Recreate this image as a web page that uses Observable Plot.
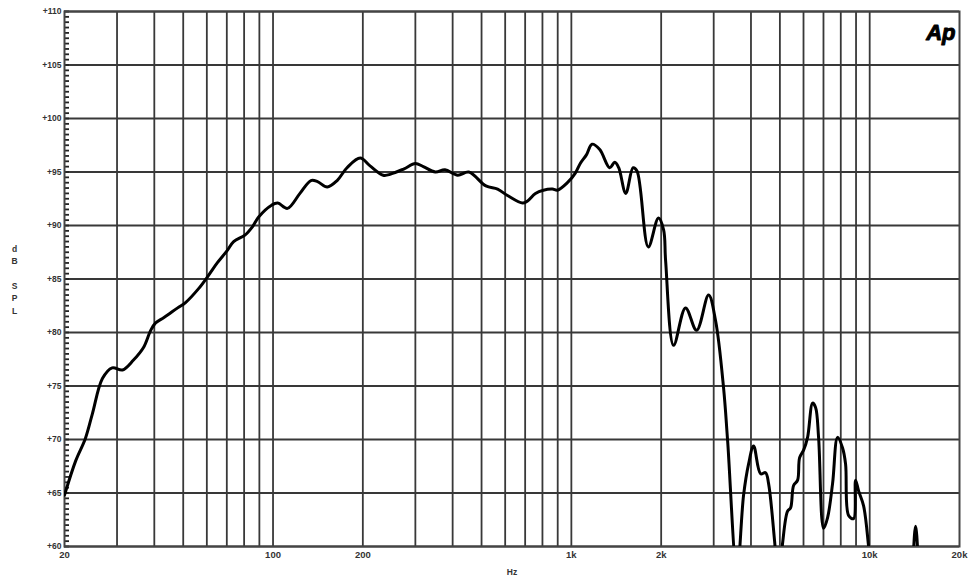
<!DOCTYPE html>
<html>
<head>
<meta charset="utf-8">
<script src="https://cdn.jsdelivr.net/npm/d3@7"></script>
<script src="https://cdn.jsdelivr.net/npm/@observablehq/plot@0.6"></script>
<style>
  html, body { margin: 0; padding: 0; background: #fff; }
</style>
</head>
<body>
<div id="chart"></div>
<script>
// Frequency response (Hz) and SPL (dB)
const freqs = [20, 21.8, 23.5, 24.8, 26.8, 28.9, 31.3, 34.0, 36.8, 38.9, 40.4, 43.1, 47.9, 50.9, 56.3, 60.3, 65.0, 70.4, 73.8, 80.5, 85.4, 89.5, 98.9, 103.7, 111.8, 123.1, 134, 141, 152, 164, 177, 196, 211, 234, 248, 275, 300, 319, 350, 377, 416, 453, 517, 566, 611, 686, 713, 758, 806, 864, 898, 970, 1031, 1071, 1123, 1173, 1245, 1344, 1398, 1441, 1522, 1610, 1660, 1811, 1958, 2038, 2070, 2202, 2414, 2629, 2884, 3044, 3238, 3340, 3590, 3778, 3926, 4082, 4308, 4477, 4581, 4800, 4950, 5105, 5306, 5430, 5558, 5733, 5822, 6004, 6192, 6436, 6586, 6740, 7006, 7226, 7510, 7806, 8112, 8302, 8498, 8832, 8970, 9180, 9540, 9916, 10300, 13500, 13926, 14252, 14588, 15000, 20000];
const spl = [64.8, 68.0, 70.1, 72.4, 75.7, 76.7, 76.5, 77.4, 78.6, 80.2, 80.9, 81.4, 82.3, 82.8, 84.1, 85.2, 86.5, 87.7, 88.5, 89.1, 89.9, 90.8, 91.9, 92.1, 91.6, 93.0, 94.2, 94.1, 93.6, 94.2, 95.4, 96.3, 95.6, 94.7, 94.8, 95.3, 95.8, 95.5, 95.0, 95.2, 94.7, 95.0, 93.7, 93.4, 92.8, 92.1, 92.3, 93.0, 93.3, 93.4, 93.3, 94.0, 94.9, 95.8, 96.6, 97.6, 97.1, 95.4, 95.9, 95.4, 93.0, 95.4, 95.1, 88.0, 90.7, 89.6, 86.7, 78.8, 82.3, 80.2, 83.5, 81.1, 74.8, 69.9, 57.5, 64.8, 67.7, 69.4, 66.8, 66.9, 65.9, 60.5, 56.0, 60.3, 63.3, 63.6, 65.7, 66.2, 68.3, 69.0, 70.2, 73.4, 73.0, 70.2, 61.7, 62.7, 65.9, 70.2, 69.2, 67.7, 62.9, 62.6, 66.2, 65.2, 63.8, 60.0, 55.0, 50.0, 58.0, 61.9, 58.0, 50.0, 45.0];

// Grid and tick values
const gridFreqs = [30, 40, 50, 60, 70, 80, 90, 100, 200, 300, 400, 500, 600, 700, 800, 900, 1000, 2000, 3000, 4000, 5000, 6000, 7000, 8000, 9000, 10000];
const xTickValues = [20, 50, 100, 200, 500, 1000, 2000, 5000, 10000, 20000];
const xTickLabels = ["20", "50", "100", "200", "500", "1k", "2k", "5k", "10k", "20k"];
const yTickValues = [60, 65, 70, 75, 80, 85, 90, 95, 100, 105, 110];
const yMinorTicks = d3.range(60, 110.001, 0.5);
const yLabelText = "d\nB\n\nS\nP\nL";
const xLabelText = "Hz";
const logoText = "Ap";

const W = 972, H = 583, ML = 64, MR = 13, MT = 11, MB = 37;
const minorTickLen = 5;

const data = freqs.map((f, i) => ({f, db: spl[i]}));
const xLabelOf = new Map(xTickValues.map((v, i) => [v, xTickLabels[i]]));

const chart = Plot.plot({
  width: W,
  height: H,
  marginLeft: ML,
  marginRight: MR,
  marginTop: MT,
  marginBottom: MB,
  style: {fontFamily: "'Liberation Sans', Arial, sans-serif", fontWeight: "bold", background: "#fff", color: "#222"},
  x: {type: "log", domain: [20, 20000], label: null},
  y: {domain: [60, 110], label: null},
  marks: [
    Plot.ruleX(gridFreqs, {stroke: "#383838", strokeWidth: 1.8}),
    Plot.ruleY(yTickValues, {stroke: "#383838", strokeWidth: 1.8}),
    Plot.tickY(yMinorTicks, {y: d => d, insetRight: W - ML - MR - minorTickLen, stroke: "#222", strokeWidth: 1.8}),
    Plot.axisY({ticks: yTickValues, tickSize: 0, tickPadding: 3, tickFormat: d => "+" + d, fontSize: 8.5, fill: "#333"}),
    Plot.axisX({ticks: xTickValues, tickSize: 0, tickPadding: 5, tickFormat: d => xLabelOf.get(d), fontSize: 9.5, fill: "#333"}),
    Plot.frame({stroke: "#444", strokeWidth: 2}),
    Plot.line(data, {x: "f", y: "db", stroke: "#000", strokeWidth: 3, curve: "catmull-rom", clip: true, strokeLinejoin: "round"}),
    Plot.text([yLabelText], {frameAnchor: "left", dx: -50, text: d => d, fontSize: 8.5, lineHeight: 1.45, textAnchor: "middle", fill: "#333"}),
    Plot.text([xLabelText], {frameAnchor: "bottom", dy: 28, text: d => d, fontSize: 8.5, fill: "#333"}),
    Plot.text([logoText], {frameAnchor: "top-right", dx: -4, dy: 13, text: d => d, fontSize: 22, fontStyle: "italic", fontWeight: "900", fill: "#000", textAnchor: "end", stroke: "#000", strokeWidth: 1})
  ]
});
document.getElementById("chart").appendChild(chart);
</script>
</body>
</html>
